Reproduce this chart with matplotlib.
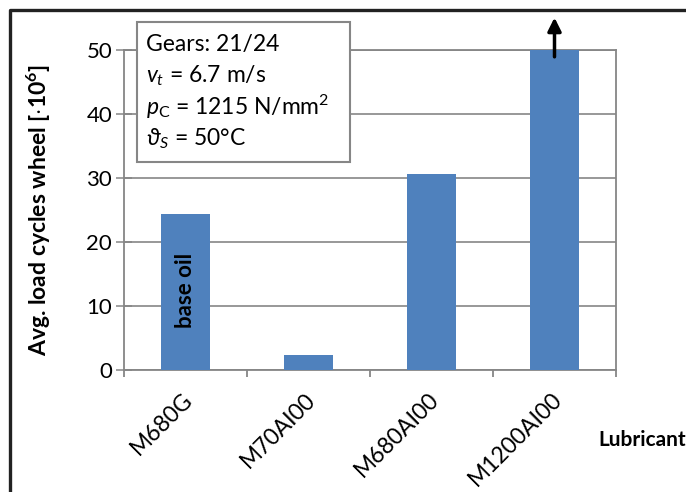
import matplotlib.pyplot as plt
import matplotlib.transforms as mtransforms
from matplotlib.patches import Rectangle
from matplotlib.lines import Line2D

plt.rcParams['font.family'] = ['Lato', 'DejaVu Sans']
plt.rcParams['mathtext.fontset'] = 'custom'
plt.rcParams['mathtext.rm'] = 'Lato'
plt.rcParams['mathtext.it'] = 'Lato:italic'
plt.rcParams['mathtext.bf'] = 'Lato:bold'

lubricants = ['M680G', 'M70AI00', 'M680AI00', 'M1200AI00']
load_cycles = [24.3, 2.4, 30.7, 50.0]
y_ticks = [0, 10, 20, 30, 40, 50]

W, H = 686, 492
fig = plt.figure(figsize=(W / 100, H / 100), dpi=100)
ax = fig.add_axes([124 / W, 1 - 370 / H, (616 - 124) / W, (370 - 50) / H])

grey = '#868686'
x = list(range(len(lubricants)))
ax.bar(x, load_cycles, width=0.4, color='#4F81BD', zorder=3)
ax.set_xlim(-0.5, len(lubricants) - 0.5)
ax.set_ylim(0, 50)

# grid + frame
ax.set_yticks(y_ticks)
ax.grid(axis='y', color=grey, lw=1.2, zorder=1)
for s in ax.spines.values():
    s.set_color(grey)
    s.set_linewidth(1.3)
ax.tick_params(axis='y', direction='inout', length=11, width=1.1, color=grey,
               labelsize=16, pad=3)

# category ticks at the boundaries, labels in the middle
ax.set_xticks(x)
ax.set_xticks([i - 0.5 for i in range(len(lubricants) + 1)], minor=True)
ax.tick_params(axis='x', which='major', length=0, pad=19)
ax.tick_params(axis='x', which='minor', direction='out', length=5, width=1.3, color=grey)
offset = mtransforms.ScaledTranslation(4 / 100, 0, fig.dpi_scale_trans)
ax.set_xticklabels(lubricants, rotation=45, ha='right', va='center',
                   rotation_mode='anchor', fontsize=16.5)
for lab in ax.get_xticklabels():
    lab.set_transform(lab.get_transform() + offset)

ax.set_ylabel('Avg. load cycles wheel [$\\mathbf{\\cdot 10^6}$]', fontsize=16.5,
              fontweight='bold')
ax.yaxis.set_label_coords((53 - 124) / (616 - 124), 0.5)

ax.text(0, 12.5, 'base oil', rotation=90, ha='center', va='center',
        fontsize=16, fontweight='bold', zorder=4)

# bar exceeds the scale
ax.annotate('', xy=(3, 55.5), xytext=(3, 48.5),
            arrowprops=dict(arrowstyle='-|>', lw=2.5, color='black', mutation_scale=20),
            annotation_clip=False, zorder=5)

fig.text(598 / W, 1 - 440 / H, 'Lubricant', fontsize=15, fontweight='bold',
         ha='left', va='center')

# info box
box = Rectangle((137 / W, 1 - 162 / H), (350 - 137) / W, (162 - 22) / H,
                transform=fig.transFigure, facecolor='white', edgecolor=grey,
                lw=1.5, zorder=5)
fig.add_artist(box)
info = ['Gears: 21/24',
        '$v_t$ = 6.7 m/s',
        '$p_\\mathrm{C}$ = 1215 N/mm$^2$',
        '$\\vartheta_S$ = 50°C']
for i, line in enumerate(info):
    fig.text(146 / W, 1 - (44 + i * 31.5) / H, line, fontsize=16.5,
             ha='left', va='center', zorder=6)

# outer frame (top and left)
fig.add_artist(Line2D([10 / W, 10 / W, 1], [0, 1 - 10 / H, 1 - 10 / H],
                      transform=fig.transFigure, color='#222222', lw=2.4))

fig.savefig('out.png', dpi=100)
